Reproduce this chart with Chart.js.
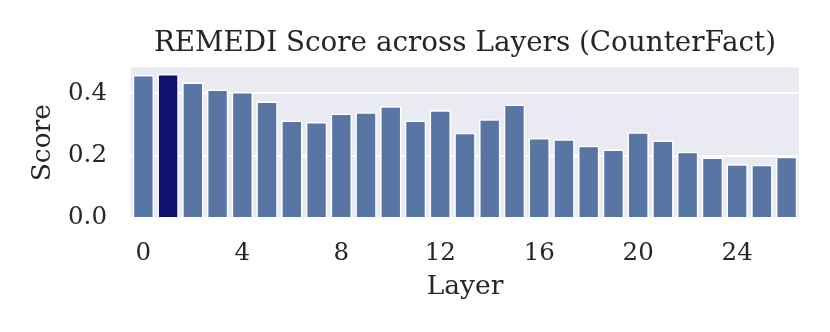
<!DOCTYPE html>
<html>
<head>
<meta charset="utf-8">
<script src="https://cdn.jsdelivr.net/npm/chart.js@4.4.0/dist/chart.umd.min.js"></script>
<style>
  html, body { margin: 0; padding: 0; background: #ffffff; }
  #wrap { width: 830px; height: 332px; }
</style>
</head>
<body>
<div id="wrap"><canvas id="c" width="830" height="332"></canvas></div>
<script>
const layers = ["0","1","2","3","4","5","6","7","8","9","10","11","12","13","14","15","16","17","18","19","20","21","22","23","24","25","26"];
const scores = [0.459, 0.462, 0.435, 0.412, 0.404, 0.374, 0.313, 0.308, 0.335, 0.339, 0.359, 0.313, 0.346, 0.274, 0.317, 0.364, 0.257, 0.253, 0.232, 0.220, 0.275, 0.249, 0.213, 0.194, 0.173, 0.171, 0.197];
const highlightLayer = "1";
const yTicks = [0.0, 0.2, 0.4];
const xTickEvery = 4;
const titleText = "REMEDI Score across Layers (CounterFact)";
const xTitle = "Layer";
const yTitle = "Score";

const baseColor = "#5975A4";
const hiColor = "#10106F";
const barColors = layers.map(l => l === highlightLayer ? hiColor : baseColor);

const FONT = "'DejaVu Serif', serif";
const TXT = "#262626";

const PLOT_LEFT = 131, PLOT_RIGHT = 799, PLOT_BOTTOM = 218;

const bgPlugin = {
  id: 'bg',
  beforeDraw(chart) {
    const {ctx, chartArea: a} = chart;
    ctx.save();
    ctx.fillStyle = "#EAEAF2";
    ctx.fillRect(a.left, a.top, a.right - a.left, a.bottom - a.top);
    ctx.restore();
  }
};

new Chart(document.getElementById('c'), {
  type: 'bar',
  data: {
    labels: layers,
    datasets: [{
      data: scores,
      backgroundColor: barColors,
      borderColor: "#ffffff",
      borderWidth: 1.6,
      barPercentage: 0.87,
      categoryPercentage: 1.0
    }]
  },
  plugins: [bgPlugin],
  options: {
    responsive: false,
    animation: false,
    devicePixelRatio: 1,
    layout: { padding: { left: 0, right: 830 - PLOT_RIGHT, top: 0, bottom: 0 } },
    plugins: {
      legend: { display: false },
      tooltip: { enabled: false },
      title: {
        display: true,
        fullSize: false,
        text: titleText,
        color: TXT,
        font: { family: FONT, size: 27.8, weight: 'normal' },
        padding: { top: 27, bottom: 7 }
      }
    },
    scales: {
      x: {
        type: 'category',
        offset: true,
        grid: { display: false, drawTicks: false },
        border: { display: false },
        ticks: {
          autoSkip: false,
          maxRotation: 0,
          color: TXT,
          padding: 21,
          font: { family: FONT, size: 24.5 },
          callback: function(v, i) { return i % xTickEvery === 0 ? layers[i] : ''; }
        },
        title: {
          display: true, text: xTitle, color: TXT,
          font: { family: FONT, size: 26.5 },
          padding: { top: 0, bottom: 28.8 }
        },
        afterFit(scale) { scale.height = 332 - PLOT_BOTTOM; }
      },
      y: {
        min: 0,
        max: 0.483,
        grid: { color: "#ffffff", lineWidth: 2, drawTicks: false },
        border: { display: false },
        ticks: {
          includeBounds: false,
          stepSize: 0.2,
          color: TXT,
          padding: 24,
          font: { family: FONT, size: 24.5 },
          callback: v => Number(v).toFixed(1)
        },
        afterBuildTicks(scale) { scale.ticks = yTicks.map(v => ({value: v})); },
        title: {
          display: true, text: yTitle, color: TXT,
          font: { family: FONT, size: 26.5 },
          padding: { top: 27.5, bottom: 0 }
        },
        afterFit(scale) { scale.width = PLOT_LEFT; }
      }
    }
  }
});
</script>
</body>
</html>
